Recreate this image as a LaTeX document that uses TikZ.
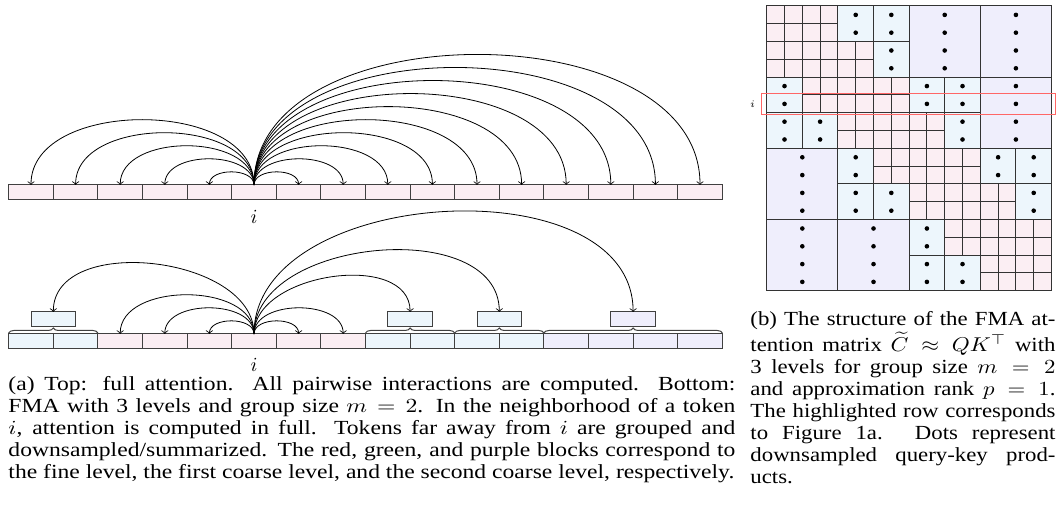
\documentclass[tikz,border=0pt]{standalone}
\usepackage{fontspec}
\setmainfont{Liberation Serif}
\usetikzlibrary{positioning, calc, decorations.pathreplacing}
\definecolor{finecol}{RGB}{251,238,243}
\definecolor{coarseA}{RGB}{237,246,252}
\definecolor{coarseB}{RGB}{239,238,252}
\tikzset{tok/.style={draw=black!75, line width=0.5pt, minimum width=22.3pt, minimum height=7.5pt, inner sep=0pt, outer sep=0pt},
link/.style={->},
grpbrace/.style={draw=black!75, line width=0.5pt, decorate, decoration={brace, amplitude=2.5pt}},
mcell/.style={draw=black!80, line width=0.5pt},
captext/.style={inner sep=0pt, align=justify, transform shape, font=\fontsize{10pt}{11pt}\selectfont}
}

\begin{document}
\begin{tikzpicture}[x=0.5pt, y=0.5pt]
\useasboundingbox (0,0) rectangle (1063,522);
% top: full attention
\foreach \k in {0,...,15}
  \node[tok, fill=finecol] (t\k) at ({31+44.6*\k}, 329.5) {};
\foreach \k in {0,...,4,6,7,...,15}
  \draw[link] (t5.north) to[out=90,in=90] (t\k.north);
\node (ti) at ([yshift=-8.7pt]t5.south) {$i$};
% bottom: FMA
\foreach \k/\col in {0/coarseA,1/coarseA,2/finecol,3/finecol,4/finecol,5/finecol,6/finecol,7/finecol,
  8/coarseA,9/coarseA,10/coarseA,11/coarseA,12/coarseB,13/coarseB,14/coarseB,15/coarseB}
  \node[tok, fill=\col] (b\k) at ({31+44.6*\k}, 180.5) {};
\node (bi) at ([yshift=-8.2pt]b5.south) {$i$};
\node[tok, fill=coarseA] (sa) at ($(b0)!0.5!(b1)+(0,22)$) {};
\node[tok, fill=coarseA] (sb) at ($(b8)!0.5!(b9)+(0,22)$) {};
\node[tok, fill=coarseA] (sc) at ($(b10)!0.5!(b11)+(0,22)$) {};
\node[tok, fill=coarseB] (sd) at ($(b13)!0.5!(b14)+(0,22)$) {};
\draw[grpbrace] ([yshift=0.5pt]b0.north west) -- ([yshift=0.5pt]b1.north east);
\draw[grpbrace] ([yshift=0.5pt]b8.north west) -- ([yshift=0.5pt]b9.north east);
\draw[grpbrace] ([yshift=0.5pt]b10.north west) -- ([yshift=0.5pt]b11.north east);
\draw[grpbrace] ([yshift=0.5pt]b12.north west) -- ([yshift=0.5pt]b15.north east);
\foreach \k in {2,3,4,6,7}
  \draw[link] (b5.north) to[out=90,in=90] (b\k.north);
\foreach \s in {sa,sb,sc,sd}
  \draw[link] (b5.north) to[out=90,in=90] (\s.north);
% matrix (b)
\begin{scope}[shift={(766.7,516)}, x=8.9pt, y=-8.9pt]
\foreach \r in {0,...,7}{
 \foreach \c in {0,...,7}{
  \pgfmathtruncatemacro\dblk{abs(floor(\r/2)-floor(\c/2))}
  \pgfmathtruncatemacro\dcell{abs(\r-\c)}
  \ifnum\dblk<2
   \ifnum\dcell<2
    \foreach \i in {0,1}{\foreach \j in {0,1}{
      \draw[mcell, fill=finecol] ({2*\c+\j},{2*\r+\i}) rectangle +(1,1);}}
   \else
    \draw[mcell, fill=coarseA] ({2*\c},{2*\r}) rectangle +(2,2);
    \fill ({2*\c+1},{2*\r+0.5}) circle[radius=1.15pt] ({2*\c+1},{2*\r+1.5}) circle[radius=1.15pt];
   \fi
  \fi
 }}
\foreach \r in {0,...,3}{
 \foreach \c in {0,...,3}{
  \pgfmathtruncatemacro\dblk{abs(\r-\c)}
  \ifnum\dblk>1
   \draw[mcell, fill=coarseB] ({4*\c},{4*\r}) rectangle +(4,4);
   \foreach \d in {0.5,1.5,2.5,3.5}{
     \fill ({4*\c+2},{4*\r+\d}) circle[radius=1.15pt];}
  \fi
 }}
\draw[red!60, line width=0.5pt] (-0.3,4.9) rectangle (16.22,6.1);
\node[font=\fontsize{5pt}{6pt}\selectfont, inner sep=0pt] (mi) at (-0.8,5.5) {$i$};
\end{scope}
% captions
\node[captext, xscale=1.18, text width=308pt, anchor=base west] (capa) at (8,131) {(a) Top: full attention. All pairwise interactions are computed. Bottom:\linebreak
FMA with 3 levels and group size $m=2$. In the neighborhood of a token\linebreak
$i$, attention is computed in full. Tokens far away from $i$ are grouped and\linebreak
downsampled/summarized. The red, green, and purple blocks correspond to\linebreak
the fine level, the first coarse level, and the second coarse level, respectively.};
\node[captext, xscale=1.14, text width=133.8pt, anchor=base west] (capb) at (750,196) {(b) The structure of the FMA at-\linebreak
tention matrix $\widetilde{C}\approx QK^\top$ with\linebreak
3 levels for group size $m=2$\linebreak
and approximation rank $p=1$.\linebreak
The highlighted row corresponds\linebreak
to Figure 1a. Dots represent\linebreak
downsampled query-key prod-\linebreak
ucts.};
\end{tikzpicture}
\end{document}
